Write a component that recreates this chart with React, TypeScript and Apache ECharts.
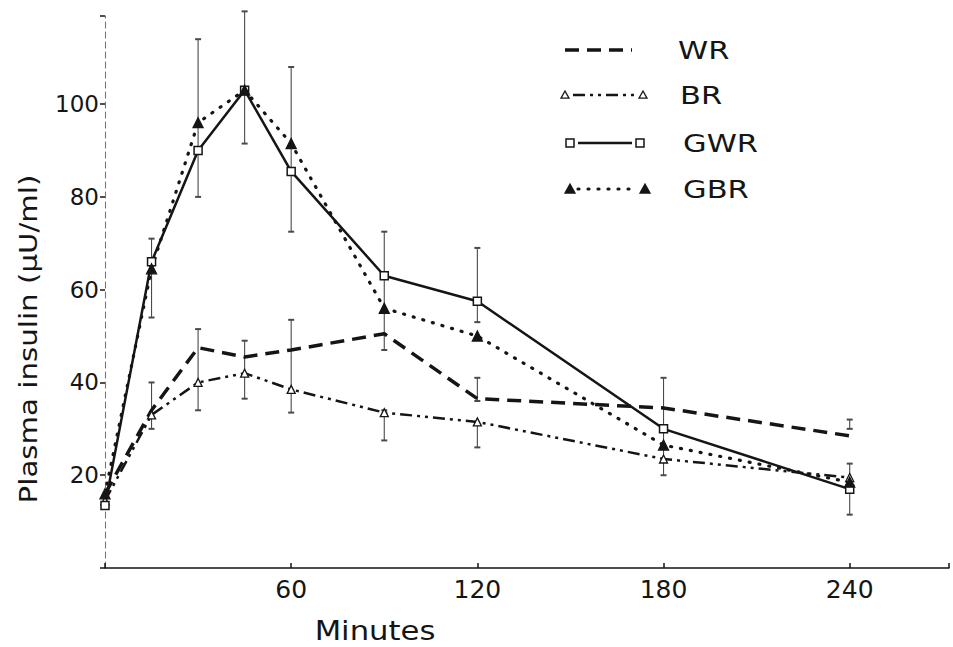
import React, { useEffect, useRef } from "react";
import * as echarts from "echarts";

const minutes = [0, 15, 30, 45, 60, 90, 120, 180, 240];
const seriesNames = ["WR", "BR", "GWR", "GBR"];
const wr = [16, 34, 47.5, 45.5, 47, 50.5, 36.5, 34.5, 28.5];
const br = [14.5, 33, 40, 42, 38.5, 33.5, 31.5, 23.5, 19.5];
const gwr = [13.5, 66, 90, 103, 85.5, 63, 57.5, 30, 17];
const gbr = [16, 64.5, 96, 103, 91.5, 56, 50, 26.5, 18.5];
// [minute, low, high]
const errorBars = [
  [15, 54, 71], [15, 30, 40],
  [30, 80, 114], [30, 34, 51.5],
  [45, 91.5, 120], [45, 36.5, 49],
  [60, 72.5, 108], [60, 33.5, 53.5],
  [90, 47, 72.5], [90, 27.5, 34],
  [120, 53, 69], [120, 36, 41], [120, 26, 31],
  [180, 20, 41],
  [240, 30, 32], [240, 11.5, 22.5],
];
const xTicks = [60, 120, 180, 240];
const yTicks = [20, 40, 60, 80, 100];

const INK = "#151515";
const FONT = "DejaVu Sans";

const styles: Record<string, any> = {
  WR: { type: [14, 8], width: 3.5, cap: "butt", symbol: "none" },
  BR: { type: [12, 5, 3, 5, 3, 5], width: 2.5, cap: "butt", symbol: "triangle", size: 8, fill: "#fff" },
  GWR: { type: "solid", width: 2.5, cap: "butt", symbol: "rect", size: 8, fill: "#fff" },
  GBR: { type: [1, 9], width: 3.2, cap: "round", symbol: "triangle", size: 10, fill: INK },
};

function pair(vals: number[]) {
  return minutes.map((m, i) => [m, vals[i]]);
}

function legendGraphic() {
  const rows = [
    { name: "WR", y: 50, x1: 565, x2: 632, tx: 678 },
    { name: "BR", y: 95, x1: 565, x2: 643, tx: 680 },
    { name: "GWR", y: 143, x1: 570, x2: 640, tx: 683 },
    { name: "GBR", y: 189, x1: 570, x2: 645, tx: 683 },
  ];
  const els: any[] = [];
  rows.forEach((r) => {
    const s = styles[r.name];
    const hasSym = s.symbol !== "none";
    const pad = hasSym ? 8 : 0;
    els.push({
      type: "line",
      shape: { x1: r.x1 + pad, y1: r.y, x2: r.x2 - pad, y2: r.y },
      style: {
        stroke: INK,
        lineWidth: s.width,
        lineDash: s.type === "solid" ? null : s.type,
        lineCap: s.cap,
      },
    });
    if (hasSym) {
      [r.x1, r.x2].forEach((cx) => {
        const h = s.size / 2;
        if (s.symbol === "rect") {
          els.push({
            type: "rect",
            shape: { x: cx - h, y: r.y - h, width: s.size, height: s.size },
            style: { fill: s.fill, stroke: INK, lineWidth: 1.5 },
          });
        } else {
          els.push({
            type: "polygon",
            shape: { points: [[cx, r.y - h], [cx + h, r.y + h * 0.8], [cx - h, r.y + h * 0.8]] },
            style: { fill: s.fill, stroke: INK, lineWidth: 1.3 },
          });
        }
      });
    }
    els.push({
      type: "text",
      x: r.tx,
      y: r.y,
      scaleX: 1.22,
      style: {
        text: r.name,
        font: `25px "${FONT}"`,
        fill: INK,
        verticalAlign: "middle",
      },
    });
  });
  return els;
}

export default function App() {
  const ref = useRef<HTMLDivElement>(null);
  useEffect(() => {
    if (!ref.current) return;
    const chart = echarts.init(ref.current, null, { renderer: "svg" });
    const dataSets: Record<string, number[]> = { WR: wr, BR: br, GWR: gwr, GBR: gbr };
    const lineSeries = seriesNames.map((name) => {
      const s = styles[name];
      return {
        name,
        type: "line",
        data: pair(dataSets[name]),
        symbol: s.symbol,
        symbolSize: s.size || 0,
        showSymbol: s.symbol !== "none",
        z: 3,
        lineStyle: { color: INK, width: s.width, type: s.type, cap: s.cap },
        itemStyle: { color: s.fill || INK, borderColor: INK, borderWidth: s.symbol === "rect" ? 1.5 : 1.3 },
        clip: false,
      };
    });
    chart.setOption({
      animation: false,
      backgroundColor: "#ffffff",
      grid: { left: 105, right: 4, top: 16, bottom: 79 },
      xAxis: {
        type: "value",
        min: 0,
        max: 272,
        interval: 60,
        splitLine: { show: false },
        axisLine: { lineStyle: { color: INK, width: 1.5 } },
        axisTick: { inside: true, length: 5, lineStyle: { color: INK, width: 1.5 } },
        axisLabel: {
          margin: 9,
          color: INK,
          fontFamily: FONT,
          fontSize: 25,
          formatter: (v: number) => (xTicks.includes(v) ? String(v) : ""),
        },
      },
      yAxis: {
        type: "value",
        min: 0,
        max: 119,
        interval: 20,
        splitLine: { show: false },
        axisLine: { show: true, lineStyle: { color: "#777", width: 1.1, type: [6, 4] } },
        axisTick: { show: true, length: 5, lineStyle: { color: INK, width: 1.5 } },
        axisLabel: {
          margin: 6,
          color: INK,
          fontFamily: FONT,
          fontSize: 23,
          formatter: (v: number) => (yTicks.includes(v) ? String(v) : ""),
        },
      },
      series: [
        {
          name: "errors",
          type: "custom",
          z: 2,
          clip: false,
          data: errorBars,
          encode: { x: 0, y: [1, 2] },
          renderItem: (params: any, api: any) => {
            const x = api.value(0);
            const p1 = api.coord([x, api.value(1)]);
            const p2 = api.coord([x, api.value(2)]);
            const st = { stroke: "#4a4a4a", lineWidth: 1.1 };
            return {
              type: "group",
              children: [
                { type: "line", shape: { x1: p1[0], y1: p1[1], x2: p2[0], y2: p2[1] }, style: st },
                { type: "line", shape: { x1: p1[0] - 3, y1: p1[1], x2: p1[0] + 3, y2: p1[1] }, style: { ...st, lineWidth: 2 } },
                { type: "line", shape: { x1: p2[0] - 3, y1: p2[1], x2: p2[0] + 3, y2: p2[1] }, style: { ...st, lineWidth: 2 } },
              ],
            };
          },
        },
        ...lineSeries,
      ],
      graphic: [
        ...legendGraphic(),
        {
          type: "text",
          x: 28,
          y: 339,
          rotation: Math.PI / 2,
          scaleX: 1.22,
          style: {
            text: "Plasma insulin (μU/ml)",
            font: `24px "${FONT}"`,
            fill: INK,
            align: "center",
            verticalAlign: "middle",
          },
        },
        {
          type: "text",
          x: 375,
          y: 631,
          scaleX: 1.18,
          style: {
            text: "Minutes",
            font: `26px "${FONT}"`,
            fill: INK,
            align: "center",
            verticalAlign: "middle",
          },
        },
      ],
    });
    return () => chart.dispose();
  }, []);
  return (
    <div
      ref={ref}
      style={{ position: "absolute", left: 0, top: 0, width: 953, height: 647, background: "#fff" }}
    />
  );
}
